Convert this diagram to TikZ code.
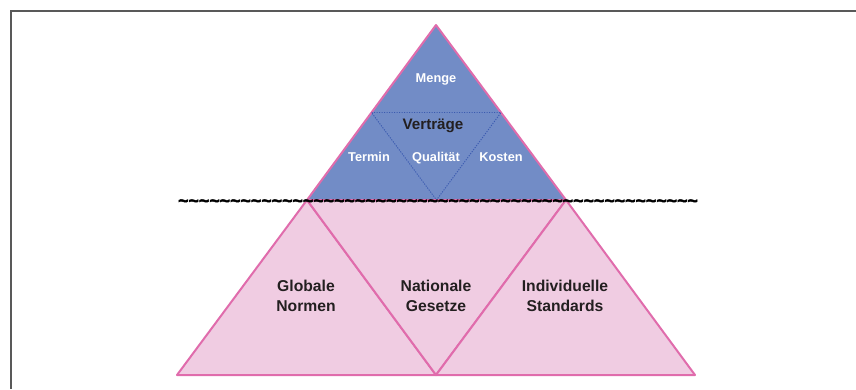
\documentclass[tikz,border=0pt]{standalone}
\usetikzlibrary{calc}
\usepackage{fontspec}
\setmainfont{Liberation Sans}
\newfontfamily\wavefont[FakeBold=2.5]{Liberation Sans Bold}
\usepackage{xcolor}
\definecolor{topblue}{HTML}{728CC6}
\definecolor{basepink}{HTML}{F0CCE2}
\definecolor{edgepink}{HTML}{E06CAC}
\definecolor{dotblue}{HTML}{3A5AB0}
\definecolor{darktext}{HTML}{231F20}
\newcommand{\tenwaves}{\textasciitilde\textasciitilde\textasciitilde\textasciitilde\textasciitilde\textasciitilde\textasciitilde\textasciitilde\textasciitilde\textasciitilde}

\begin{document}
\begin{tikzpicture}[x=1pt, y=-1pt,
  lower part/.style={fill=basepink, draw=edgepink, line width=2pt, line join=round},
  upper part/.style={fill=topblue, draw=edgepink, line width=2pt, line join=round},
  inner part/.style={draw=dotblue, line width=0.9pt, dash pattern=on 1.2pt off 1.3pt},
  small label/.style={anchor=base, text=white, font=\bfseries\fontsize{12.8}{15}\selectfont},
  big label/.style={anchor=base, text=darktext, align=center, font=\bfseries\fontsize{15.7}{20}\selectfont},
  waves/.style={anchor=base, inner sep=0, text=black, font=\wavefont\fontsize{17.8}{20}\selectfont}]
\useasboundingbox (0,0) rectangle (856,389);
\draw[gray!70!black, line width=1.5pt] (856,11) -- (11,11) -- (11,389);

% ecken
\coordinate (apex) at (436,25);
\coordinate (top-l) at (307,200);
\coordinate (top-r) at (566,200);
\coordinate (bot-l) at (177,375);
\coordinate (bot-m) at (436,375);
\coordinate (bot-r) at (695,375);
\coordinate (mid-l) at ($(apex)!0.5!(top-l)$);
\coordinate (mid-r) at ($(apex)!0.5!(top-r)$);
\coordinate (mid-b) at ($(top-l)!0.5!(top-r)$);

\foreach \a/\b/\c in {top-l/bot-l/bot-m, top-l/top-r/bot-m, top-r/bot-m/bot-r}
  \filldraw[lower part] (\a) -- (\b) -- (\c) -- cycle;

\filldraw[upper part] (apex) -- (top-l) -- (top-r) -- cycle;
\draw[inner part] (mid-l) -- (mid-r) -- (mid-b) -- cycle;

\node[small label] (menge) at (436,82.6) {Menge};
\node[big label, font=\bfseries\fontsize{15.2}{18}\selectfont] (vertraege) at (433,129.5) {Verträge};
\foreach \l/\x [count=\i] in {Termin/369, Qualität/436, Kosten/501}
  \node[small label] (inner-\i) at (\x,161.3) {\l};

\foreach \l/\x [count=\i] in {Globale\\Normen/306, Nationale\\Gesetze/436, Individuelle\\Standards/565}
  \node[big label] (base-\i) at (\x,311.6) {\l};

\node[waves] (wave-line) at (438,206.7) {\tenwaves\tenwaves\tenwaves\tenwaves\tenwaves};

\end{tikzpicture}
\end{document}
